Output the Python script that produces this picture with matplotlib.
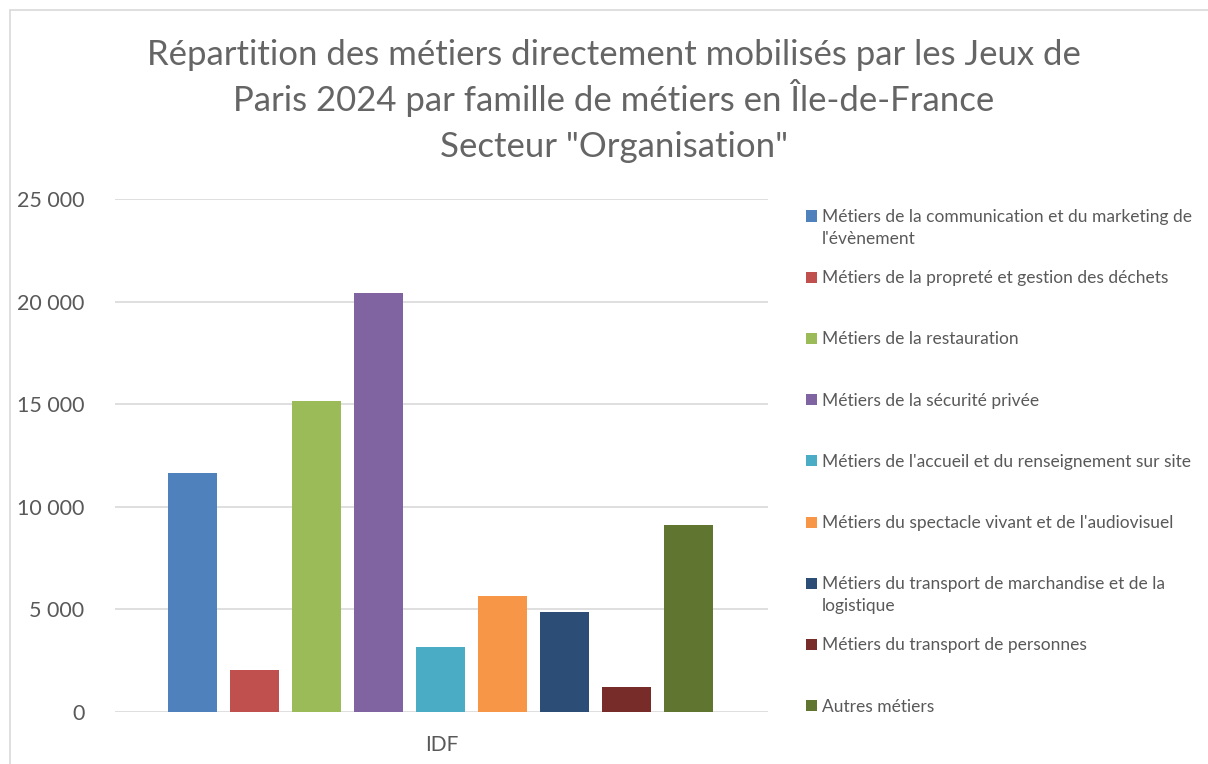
import matplotlib
matplotlib.use('Agg')
from matplotlib import pyplot as plt
from matplotlib.patches import Rectangle

plt.rcParams['font.family'] = ['Lato', 'DejaVu Sans']

# Data
categories = [
    "Métiers de la communication et du marketing de\nl'évènement",
    "Métiers de la propreté et gestion des déchets",
    "Métiers de la restauration",
    "Métiers de la sécurité privée",
    "Métiers de l'accueil et du renseignement sur site",
    "Métiers du spectacle vivant et de l'audiovisuel",
    "Métiers du transport de marchandise et de la\nlogistique",
    "Métiers du transport de personnes",
    "Autres métiers",
]
values = [11640, 2070, 15140, 20420, 3190, 5630, 4860, 1200, 9090]
colors = ['#4F81BD', '#C0504D', '#9BBB59', '#8064A2', '#4BACC6',
          '#F79646', '#2C4D75', '#772C2A', '#5F7530']
yticks = [0, 5000, 10000, 15000, 20000, 25000]
group_label = 'IDF'
title_lines = [
    'Répartition des métiers directement mobilisés par les Jeux de',
    'Paris 2024 par famille de métiers en Île-de-France',
    'Secteur "Organisation"',
]

W, H = 1208, 764
fig = plt.figure(figsize=(W / 100, H / 100), dpi=100)

# chart border like the Excel frame
fig.patches.append(Rectangle((10 / W, -0.1), 1.2, 1 - 10 / H + 0.1,
                             transform=fig.transFigure, fill=False,
                             edgecolor='#D9D9D9', linewidth=1.2))

ax = fig.add_axes([115 / W, 1 - 712 / H, (768 - 115) / W, (712 - 199) / H])
x = list(range(len(values)))
ax.bar(x, values, width=49 / 62, color=colors, zorder=3)
ax.set_xlim(-1.25, 9.28)
ax.set_ylim(0, 25000)
ax.set_yticks(yticks)
ax.set_yticklabels([f'{v:,}'.replace(',', ' ') for v in yticks],
                   fontsize=15.5, color='#595959')
ax.tick_params(axis='y', length=0, pad=22)
ax.set_xticks([])
ax.grid(axis='y', color='#D9D9D9', linewidth=1.2, zorder=0)
for s in ax.spines.values():
    s.set_visible(False)

ax.text(0.5, -0.065, group_label, transform=ax.transAxes, ha='center',
        va='center', fontsize=15, color='#595959')

# title, one line at a time to keep even spacing
for i, line in enumerate(title_lines):
    fig.text(614 / W, 1 - (65 + 46 * i) / H, line, ha='center',
             va='baseline', fontsize=25, color='#656565')

# legend drawn by hand so wrapped entries keep Excel spacing
y0, step = 216, 61.2
for i, (lab, c) in enumerate(zip(categories, colors)):
    yy = y0 + i * step
    fig.patches.append(Rectangle((806 / W, 1 - (yy + 5.5) / H), 11 / W, 11 / H,
                                 transform=fig.transFigure, facecolor=c,
                                 edgecolor='none'))
    fig.text(822 / W, 1 - (yy - 7) / H, lab, ha='left', va='top',
             fontsize=12.5, color='#595959', linespacing=1.45)

fig.savefig('out.png', dpi=100)
